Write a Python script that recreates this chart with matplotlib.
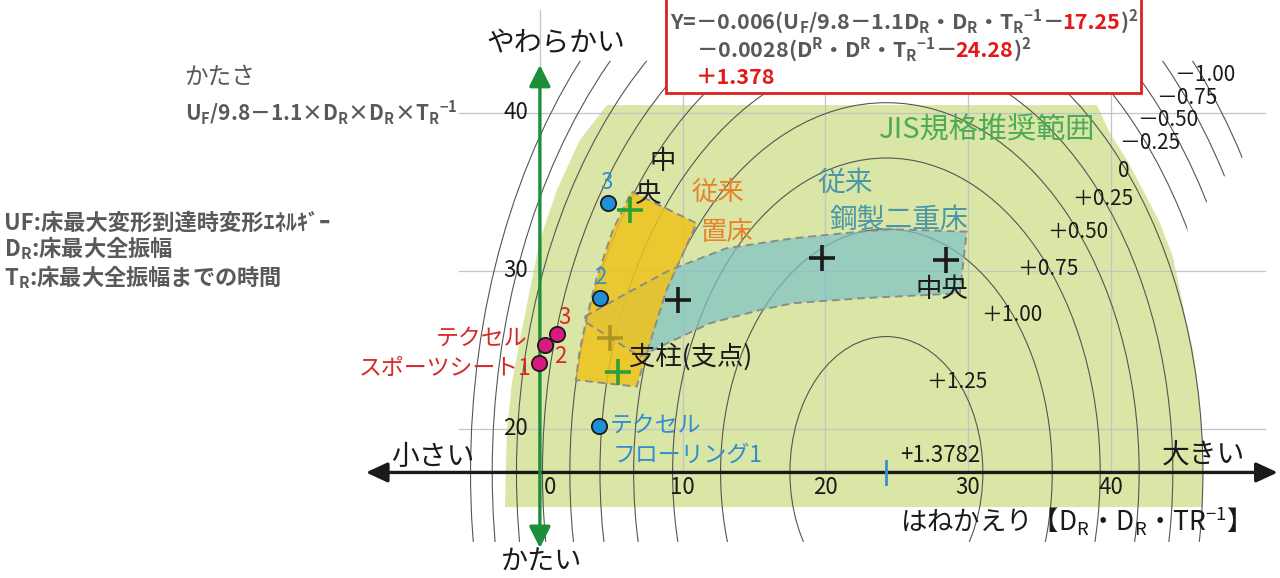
import matplotlib
matplotlib.use("Agg")
import matplotlib.pyplot as plt
from matplotlib.patches import Polygon, Ellipse, Rectangle, FancyArrowPatch
from matplotlib.offsetbox import TextArea, HPacker, AnnotationBbox

JP = ['Noto Sans CJK JP', 'DejaVu Sans']
plt.rcParams['font.family'] = JP
plt.rcParams['mathtext.default'] = 'regular'

# ---------------- data ----------------
# evaluation-value contours Y (drawn as ellipses around the peak)
contour_levels = [1.25, 1.00, 0.75, 0.50, 0.25, 0.0, -0.25, -0.50, -0.75, -1.00]
contour_labels = ['＋1.25', '＋1.00', '＋0.75', '＋0.50', '＋0.25', '0',
                  '－0.25', '－0.50', '－0.75', '－1.00']
contour_half_w = [6.76, 11.62, 14.98, 17.71, 20.07, 22.18, 24.10, 25.92, 27.62, 29.14]
contour_half_h = [8.6, 15.4, 19.9, 23.4, 26.5, 29.3, 31.8, 34.2, 36.5, 38.5]
contour_label_x = [29.21, 33.07, 35.59, 37.69, 39.44, 40.91, 42.73, 43.99, 45.32, 46.58]
contour_label_y = [22.97, 27.22, 30.13, 32.47, 34.56, 36.33, 38.10, 39.56, 40.95, 42.41]
peak_x, peak_y, peak_value = 24.28, 17.25, 1.3782

# region where the contour lines are shown
contour_area_x = [-6, -6, 52, 52, 49.19, 47.86, 46.74, 45.34, 45.8, 47.0, 47.0]
contour_area_y = [12.85, 43.3, 43.3, 40.5, 37.15, 35.89, 34.37, 32.91, 28.0, 22.0, 12.85]

# JIS recommended range
jis_x = [4.70, 2.80, 1.19, 0.00, -0.70, -1.40, -1.96, -2.31, -2.45,
         46.46, 46.46, 46.25, 45.76, 44.99, 44.36, 43.45, 42.26, 41.13, 39.94, 39.03]
jis_y = [40.5, 38.29, 35.13, 31.96, 28.8, 25.63, 22.91, 19.94, 15.06,
         15.06, 18.67, 21.8, 25.0, 28.16, 30.89, 33.04, 35.13, 37.03, 38.73, 40.5]

# conventional placed floor (従来置床)
placed_area_x = [6.43, 10.98, 9.93, 8.88, 7.71, 6.78, 2.52, 2.80, 3.29, 4.00, 5.12]
placed_area_y = [35.02, 33.02, 30.90, 28.80, 25.44, 22.68, 23.10, 25.00, 27.09, 29.62, 32.60]

# conventional steel double floor (従来鋼製二重床)
steel_area_x = [3.15, 6.08, 9.11, 13.08, 17.75, 22.42, 24.74, 29.90,
                29.43, 22.42, 17.74, 15.42, 11.91, 8.41, 7.01, 3.15]
steel_area_y = [27.11, 28.59, 30.06, 31.44, 32.07, 32.49, 32.64, 32.49,
                28.59, 28.27, 27.96, 27.53, 26.69, 25.21, 24.58, 26.79]

# measured points
sport_x = [-0.05, 0.35, 1.17]          # テクセル スポーツシート 1,2,3
sport_y = [24.16, 25.30, 26.00]
sport_ids = ['1', '2', '3']
floor_x = [4.16, 4.20, 4.78]           # テクセル フローリング 1,2,3
floor_y = [20.20, 28.30, 34.30]
floor_ids = ['1', '2', '3']
steel_x = [9.69, 19.74, 28.45]         # 鋼製二重床 (支柱, ... , 中央)
steel_y = [28.16, 30.80, 30.67]
placed_x = [6.31, 5.49]                # 置床 (中央, 支柱)
placed_y = [33.86, 23.63]
mid_x = [4.91]
mid_y = [25.74]

x_ticks = [0, 10, 20, 30, 40]
y_ticks = [20, 30, 40]

# ---------------- figure ----------------
fig = plt.figure(figsize=(12.8, 5.78), dpi=100)
ax = fig.add_axes([0, 0, 1, 1])
ax.set_xlim(-37.83, 51.86)
ax.set_ylim(10.57, 47.15)
ax.axis('off')

GREEN_BG = '#D9E6A6'
ax.add_patch(Polygon(list(zip(jis_x, jis_y)), closed=True, facecolor=GREEN_BG,
                     edgecolor='none', zorder=1))

# grid
for yv in y_ticks:
    ax.plot([-5.7, 50.8], [yv, yv], color='#C4C4C4', lw=0.9, zorder=2)
for xv in x_ticks:
    ax.plot([xv, xv], [peak_y, 46.5], color='#C4C4C4', lw=0.9, zorder=2)

# contours
clip = Polygon(list(zip(contour_area_x, contour_area_y)), closed=True,
               transform=ax.transData, facecolor='none', edgecolor='none')
for hw, hh in zip(contour_half_w, contour_half_h):
    e = Ellipse((peak_x, peak_y), 2 * hw, 2 * hh, fill=False,
                edgecolor='#555555', lw=0.8, zorder=3)
    ax.add_patch(e)
    e.set_clip_path(clip)

# regions
ax.add_patch(Polygon(list(zip(steel_area_x, steel_area_y)), closed=True,
                     facecolor='#7FC2C6', alpha=0.72, edgecolor='none', zorder=4))
ax.add_patch(Polygon(list(zip(placed_area_x, placed_area_y)), closed=True,
                     facecolor='#EFC21B', alpha=0.85, edgecolor='none', zorder=5))
for xs, ys in [(steel_area_x, steel_area_y), (placed_area_x, placed_area_y)]:
    ax.add_patch(Polygon(list(zip(xs, ys)), closed=True, facecolor='none',
                         edgecolor='#8C8C8C', lw=1.4, linestyle=(0, (4, 2.5)), zorder=6))

# axes arrows
ax.add_patch(FancyArrowPatch((-12.19, peak_y), (51.7, peak_y),
                             arrowstyle='<|-|>,head_length=13,head_width=6',
                             mutation_scale=1, lw=2.4, color='#1A1A1A',
                             shrinkA=0, shrinkB=0, zorder=7))
ax.add_patch(FancyArrowPatch((0, 12.47), (0, 43.04),
                             arrowstyle='<|-|>,head_length=13,head_width=6.5',
                             mutation_scale=1, lw=2.4, color='#1B8F3A',
                             shrinkA=0, shrinkB=0, zorder=7))
ax.plot([peak_x, peak_x], [16.55, 17.95], color='#3A8FD0', lw=2, zorder=7)

# markers
ax.plot(sport_x, sport_y, 'o', ms=11, mfc='#D81B7F', mec='#1A1A1A', mew=1.3, zorder=8)
ax.plot(floor_x, floor_y, 'o', ms=11, mfc='#1E8FD8', mec='#1A1A1A', mew=1.3, zorder=8)
ax.plot(steel_x, steel_y, '+', ms=19, mew=2.6, color='#1A1A1A', zorder=8)
ax.plot(placed_x, placed_y, '+', ms=19, mew=2.6, color='#2AA038', zorder=8)
ax.plot(mid_x, mid_y, '+', ms=19, mew=2.6, color='#A88E1E', alpha=0.85, zorder=8)

# ---------------- texts ----------------
TXT = dict(zorder=9)
# ticks
for xv in x_ticks:
    ax.text(xv + (0.7 if xv == 0 else 0), 16.27, str(xv), ha='center', va='center',
            fontsize=16, color='#1A1A1A', **TXT)
for yv in y_ticks:
    ax.text(-0.84, yv, str(yv), ha='right', va='center', fontsize=16,
            color='#1A1A1A', **TXT)

# contour labels
for lx, ly, s in zip(contour_label_x, contour_label_y, contour_labels):
    ax.text(lx, ly, s, ha='center', va='center', fontsize=15, color='#1A1A1A', **TXT)
ax.text(28.03, 18.35, '+%.4f' % peak_value, ha='center', va='center', fontsize=16,
        color='#1A1A1A', **TXT)

# axis words
ax.text(1.09, 44.43, 'やわらかい', ha='center', va='center', fontsize=20, color='#1A1A1A', **TXT)
ax.text(0.14, 11.55, 'かたい', ha='center', va='center', fontsize=19.5, color='#1A1A1A', **TXT)
ax.text(-7.5, 18.23, '小さい', ha='center', va='center', fontsize=20, color='#1A1A1A', **TXT)
ax.text(46.5, 18.35, '大きい', ha='center', va='center', fontsize=20, color='#1A1A1A', **TXT)
ax.text(25.2, 14.24, 'はねかえり【D$_R$・D$_R$・TR$^{-1}$】', ha='left', va='center',
        fontsize=19, color='#1A1A1A', **TXT)
GRAY = '#595959'
ax.text(-24.9, 42.28, 'かたさ', ha='left', va='center', fontsize=17, color=GRAY, **TXT)
ax.text(-24.9, 40.0, 'U$_F$/9.8－1.1×D$_R$×D$_R$×T$_R$$^{-1}$', ha='left', va='center',
        fontsize=15, color=GRAY, fontweight='bold', **TXT)
ax.text(-37.55, 33.04, 'UF:床最大変形到達時変形ｴﾈﾙｷﾞｰ', ha='left', va='center',
        fontsize=16, color=GRAY, fontweight='bold', **TXT)
ax.text(-37.55, 31.46, 'D$_R$:床最大全振幅', ha='left', va='center',
        fontsize=16, color=GRAY, fontweight='bold', **TXT)
ax.text(-37.55, 29.62, 'T$_R$:床最大全振幅までの時間', ha='left', va='center',
        fontsize=16, color=GRAY, fontweight='bold', **TXT)

# region labels
ax.text(31.31, 38.92, 'JIS規格推奨範囲', ha='center', va='center', fontsize=21,
        color='#4DAA57', **TXT)
ORANGE = '#E8822A'
ax.text(12.47, 35.0, '従来', ha='center', va='center', fontsize=19, color=ORANGE, **TXT)
ax.text(13.05, 32.41, '置床', ha='center', va='center', fontsize=19, color=ORANGE, **TXT)
TEAL = '#4A97A8'
ax.text(21.37, 35.57, '従来', ha='center', va='center', fontsize=20, color=TEAL, **TXT)
ax.text(25.15, 33.23, '鋼製二重床', ha='center', va='center', fontsize=20, color=TEAL, **TXT)
ax.text(8.62, 36.9, '中', ha='center', va='center', fontsize=19, color='#1A1A1A', **TXT)
ax.text(7.57, 34.81, '央', ha='center', va='center', fontsize=19, color='#1A1A1A', **TXT)
ax.text(10.58, 24.56, '支柱(支点)', ha='center', va='center', fontsize=19, color='#1A1A1A', **TXT)
ax.text(28.16, 28.8, '中央', ha='center', va='center', fontsize=19, color='#1A1A1A', **TXT)

# point labels
RED = '#D62A2A'
BLUE = '#2E8FD0'
ax.text(-0.91, 25.76, 'テクセル', ha='right', va='center', fontsize=16.5, color=RED, **TXT)
ax.text(-0.56, 23.86, 'スポーツシート1', ha='right', va='center', fontsize=16.5, color=RED, **TXT)
ax.text(1.4, 24.56, sport_ids[1], ha='center', va='center', fontsize=16, color=RED, **TXT)
ax.text(1.75, 27.03, sport_ids[2], ha='center', va='center', fontsize=16, color=RED, **TXT)
ax.text(4.69, 35.57, floor_ids[2], ha='center', va='center', fontsize=16, color=BLUE, **TXT)
ax.text(4.2, 29.56, floor_ids[1], ha='center', va='center', fontsize=16, color=BLUE, **TXT)
ax.text(4.9, 20.25, 'テクセル', ha='left', va='center', fontsize=16.5, color=BLUE, **TXT)
ax.text(5.11, 18.35, 'フローリング' + floor_ids[0], ha='left', va='center', fontsize=16.5,
        color=BLUE, **TXT)

# formula box
ax.add_patch(Rectangle((8.83, 41.27), 42.1 - 8.83, 6.2, facecolor='white',
                       edgecolor='#E02020', lw=2, zorder=10))
FRED = '#E31A1A'


def seg_line(x, y, parts, size):
    boxes = [TextArea(s, textprops=dict(color=c, fontsize=size, fontweight='bold',
                                        family=JP)) for s, c in parts]
    pack = HPacker(children=boxes, align='baseline', pad=0, sep=0)
    ab = AnnotationBbox(pack, (x, y), xycoords='data', box_alignment=(0, 0.5),
                        frameon=False, pad=0)
    ab.set_zorder(11)
    ax.add_artist(ab)


seg_line(9.11, 45.76, [('Y=－0.006(U$_F$/9.8－1.1D$_R$・D$_R$・T$_R$$^{-1}$－', GRAY),
                       ('17.25', FRED), (')$^2$', GRAY)], 15.5)
seg_line(10.93, 43.99, [('－0.0028(D$^R$・D$^R$・T$_R$$^{-1}$－', GRAY),
                        ('24.28', FRED), (')$^2$', GRAY)], 15.5)
seg_line(10.93, 42.22, [('＋1.378', FRED)], 15.5)

fig.savefig('out.png', dpi=100)
